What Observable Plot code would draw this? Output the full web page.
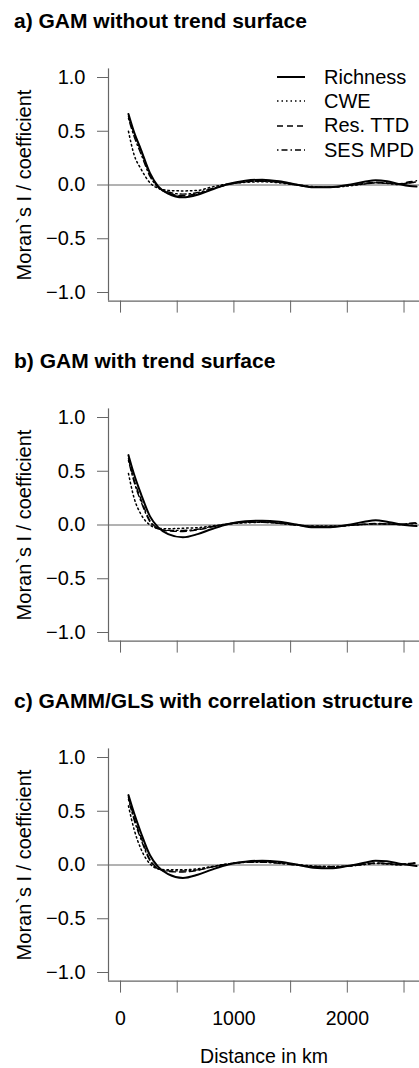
<!DOCTYPE html>
<html><head><meta charset="utf-8">
<script src="https://cdn.jsdelivr.net/npm/d3@7"></script>
<script src="https://cdn.jsdelivr.net/npm/@observablehq/plot@0.6"></script>
<style>
body{margin:0;background:#fff;font-family:"Liberation Sans",Arial,sans-serif;}
#root{position:relative;width:419px;height:1068px;overflow:hidden;background:#fff;}
.panel{position:absolute;left:0;width:419px;}
.panel > svg.chart{position:absolute;left:0;top:40px;}
.title{position:absolute;left:14px;top:10px;font-weight:bold;font-size:21px;line-height:21px;white-space:nowrap;color:#000;}
.legend{position:absolute;left:277px;top:65px;font-size:20px;color:#000;}
.legend .row{display:flex;align-items:center;height:24.3px;}
.legend .row svg{display:block;}
.legend .row span{margin-left:19px;white-space:nowrap;}
</style>
</head><body><div id="root"></div>
<script>
// ---- data ----
const panelTitles = ["a) GAM without trend surface", "b) GAM with trend surface", "c) GAMM/GLS with correlation structure"];
const seriesNames = ["Richness", "CWE", "Res. TTD", "SES MPD"];
const distance = [70,120,180,260,330,420,550,680,800,950,1100,1250,1400,1550,1700,1850,2000,2150,2250,2350,2450,2550,2610];

const richnessA = [0.66,0.49,0.33,0.11,-0.01,-0.08,-0.115,-0.09,-0.045,0.01,0.04,0.05,0.035,0.005,-0.022,-0.02,0.0,0.03,0.045,0.035,0.01,-0.01,-0.015];
const cweA      = [0.50,0.28,0.15,0.02,-0.03,-0.05,-0.055,-0.05,-0.02,0.01,0.025,0.03,0.02,0.0,-0.015,-0.02,-0.01,0.01,0.02,0.015,0.005,0.02,0.03];
const resTtdA   = [0.64,0.48,0.32,0.10,-0.015,-0.075,-0.10,-0.08,-0.04,0.005,0.03,0.04,0.03,0.005,-0.02,-0.02,-0.005,0.015,0.025,0.02,0.01,0.03,0.04];
const sesMpdA   = [0.62,0.45,0.29,0.08,-0.02,-0.065,-0.085,-0.07,-0.035,0.005,0.03,0.035,0.025,0.0,-0.02,-0.02,-0.005,0.01,0.02,0.015,0.01,0.02,0.025];

const richnessB = [0.65,0.47,0.29,0.08,-0.02,-0.085,-0.115,-0.085,-0.04,0.01,0.035,0.04,0.03,0.005,-0.022,-0.02,0.0,0.03,0.045,0.03,0.01,-0.005,-0.01];
const cweB      = [0.48,0.25,0.10,0.0,-0.03,-0.035,-0.03,-0.025,-0.01,0.01,0.02,0.025,0.015,0.0,-0.01,-0.01,-0.005,0.005,0.01,0.01,0.005,0.01,0.015];
const resTtdB   = [0.62,0.42,0.24,0.04,-0.03,-0.055,-0.06,-0.045,-0.02,0.01,0.025,0.03,0.02,0.0,-0.015,-0.015,-0.005,0.01,0.015,0.01,0.005,0.015,0.02];
const sesMpdB   = [0.60,0.40,0.22,0.03,-0.035,-0.05,-0.05,-0.04,-0.015,0.01,0.025,0.025,0.015,0.0,-0.01,-0.012,-0.005,0.005,0.01,0.01,0.005,0.015,0.02];

const richnessC = [0.65,0.48,0.30,0.09,-0.015,-0.085,-0.12,-0.09,-0.045,0.005,0.03,0.04,0.03,0.005,-0.025,-0.03,-0.01,0.02,0.04,0.035,0.015,0.0,-0.01];
const cweC      = [0.55,0.33,0.15,0.01,-0.035,-0.045,-0.045,-0.035,-0.015,0.01,0.025,0.03,0.02,0.005,-0.01,-0.015,-0.01,0.005,0.015,0.01,0.0,0.01,0.02];
const resTtdC   = [0.63,0.44,0.26,0.05,-0.03,-0.06,-0.065,-0.05,-0.02,0.01,0.025,0.03,0.02,0.0,-0.015,-0.02,-0.01,0.01,0.02,0.015,0.005,0.01,0.015];
const sesMpdC   = [0.61,0.42,0.24,0.04,-0.035,-0.055,-0.055,-0.045,-0.02,0.01,0.025,0.025,0.015,0.0,-0.012,-0.015,-0.01,0.005,0.015,0.012,0.005,0.015,0.02];

const xTicks = [0,500,1000,1500,2000,2500];
const xTickLabels = [0,1000,2000];
const yTicks = [-1.0,-0.5,0.0,0.5,1.0];
const xDomain = [-106, 2663];
const yDomain = [-1.08, 1.08];
const yLabel = "Moran`s I / coefficient";
const xLabel = "Distance in km";

// ---- styles ----
const lineStyles = {
  "Richness": {strokeWidth: 2, strokeDasharray: null},
  "CWE": {strokeWidth: 1.5, strokeDasharray: "1.5,3"},
  "Res. TTD": {strokeWidth: 1.4, strokeDasharray: "6,4"},
  "SES MPD": {strokeWidth: 1.4, strokeDasharray: "1.5,3,6,3"}
};

const panelSeries = [
  [richnessA, cweA, resTtdA, sesMpdA],
  [richnessB, cweB, resTtdB, sesMpdB],
  [richnessC, cweC, resTtdC, sesMpdC]
];

const root = document.getElementById("root");
const fmt = d3.format(".1f");

panelSeries.forEach((series, pi) => {
  const isLast = pi === 2;
  const panel = document.createElement("div");
  panel.className = "panel";
  panel.style.top = (pi * 340) + "px";
  panel.style.height = (isLast ? 388 : 340) + "px";

  const lineMarks = seriesNames.map((name, si) => {
    const rows = distance.map((d, i) => ({d, v: series[si][i]}));
    const st = lineStyles[name];
    const opts = {x: "d", y: "v", stroke: "#000", strokeWidth: st.strokeWidth, curve: "monotone-x"};
    if (st.strokeDasharray) opts.strokeDasharray = st.strokeDasharray;
    return Plot.line(rows, opts);
  });

  const h = isLast ? 348 : 300;
  const chart = Plot.plot({
    width: 419,
    height: h,
    marginTop: 28.4,
    marginBottom: h - 260.6,
    marginLeft: 108,
    marginRight: 0,
    className: "chart",
    style: {fontFamily: '"Liberation Sans", Arial, sans-serif', fontSize: "19.5px", color: "#000", background: "transparent", overflow: "hidden"},
    x: {domain: xDomain, range: [108, 422]},
    y: {domain: yDomain},
    marks: [
      Plot.ruleY([0], {stroke: "#666", strokeWidth: 1}),
      ...lineMarks,
      Plot.ruleX([xDomain[0]], {stroke: "#666", strokeWidth: 1.2}),
      Plot.ruleY([yDomain[0]], {stroke: "#666", strokeWidth: 1.2}),
      Plot.axisY({ticks: yTicks, tickSize: 11, tickPadding: 12, stroke: "#666", tickFormat: fmt,
        label: yLabel, labelAnchor: "center", labelOffset: 92, labelArrow: "none", fontSize: "20px"}),
      Plot.axisX({ticks: xTicks, tickSize: 12, tickPadding: 18.4, stroke: "#666",
        tickFormat: d => (isLast && xTickLabels.includes(d)) ? String(d) : "",
        label: isLast ? xLabel : null, labelAnchor: "center", labelOffset: 82, labelArrow: "none"})
    ]
  });
  chart.classList.add("chart");
  panel.appendChild(chart);

  const title = document.createElement("div");
  title.className = "title";
  title.textContent = panelTitles[pi];
  panel.appendChild(title);

  if (pi === 0) {
    const legend = document.createElement("div");
    legend.className = "legend";
    seriesNames.forEach(name => {
      const st = lineStyles[name];
      const row = document.createElement("div");
      row.className = "row";
      const s = d3.create("svg").attr("width", 28).attr("height", 10);
      s.append("line").attr("x1", 0).attr("x2", 28).attr("y1", 5).attr("y2", 5)
        .attr("stroke", "#000").attr("stroke-width", st.strokeWidth)
        .attr("stroke-dasharray", st.strokeDasharray);
      row.appendChild(s.node());
      const t = document.createElement("span");
      t.textContent = name;
      row.appendChild(t);
      legend.appendChild(row);
    });
    panel.appendChild(legend);
  }
  root.appendChild(panel);
});
</script>
</body></html>
